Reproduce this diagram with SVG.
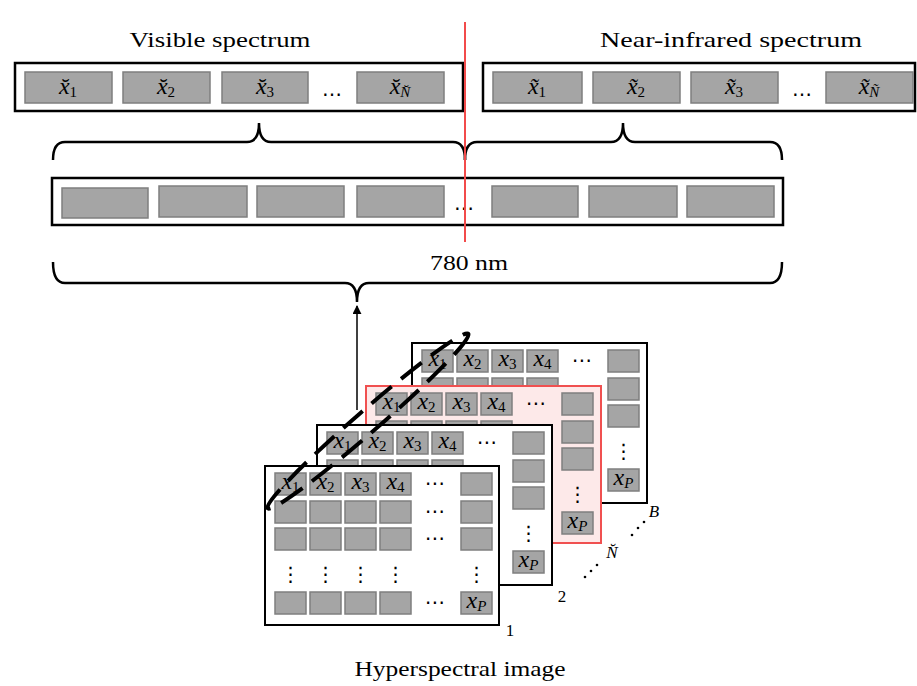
<svg xmlns="http://www.w3.org/2000/svg" xmlns:xlink="http://www.w3.org/1999/xlink" width="917" height="686" viewBox="0 0 917 686">
<style>
.lbl{font-family:"Liberation Serif",serif;font-size:22px;fill:#000}
.cell{fill:#a5a5a5;stroke:#7f7f7f;stroke-width:1.5}
.bar{fill:#fff;stroke:#000;stroke-width:2.5}
.m{font-family:"Liberation Serif",serif;font-size:24px;font-style:italic;text-anchor:middle;fill:#000}
.sub{font-size:15px;font-style:normal}
.isub{font-size:15px;font-style:italic}
.dots{font-family:"DejaVu Sans",sans-serif;font-size:20px;text-anchor:middle;fill:#000}
.vd{font-family:"DejaVu Sans",sans-serif;font-size:20px;text-anchor:middle;fill:#000}
.brace{fill:none;stroke:#000;stroke-width:2.5}
.panel{fill:#fff;stroke:#000;stroke-width:2}
.pink{fill:#fde9e9;stroke:#f05050;stroke-width:2}
</style>
<defs>
<marker id="ah" viewBox="0 0 10 10" refX="9" refY="5" markerWidth="9" markerHeight="9" markerUnits="userSpaceOnUse" orient="auto">
<path d="M0,0 L10,5 L0,10 z" fill="#000"/>
</marker>
<g id="grid">
<rect class="cell" x="10" y="7" width="31" height="22"/>
<rect class="cell" x="45" y="7" width="31" height="22"/>
<rect class="cell" x="80" y="7" width="31" height="22"/>
<rect class="cell" x="115" y="7" width="31" height="22"/>
<rect class="cell" x="196" y="7" width="31" height="22"/>
<rect class="cell" x="10" y="35" width="31" height="22"/>
<rect class="cell" x="45" y="35" width="31" height="22"/>
<rect class="cell" x="80" y="35" width="31" height="22"/>
<rect class="cell" x="115" y="35" width="31" height="22"/>
<rect class="cell" x="196" y="35" width="31" height="22"/>
<rect class="cell" x="10" y="62" width="31" height="22"/>
<rect class="cell" x="45" y="62" width="31" height="22"/>
<rect class="cell" x="80" y="62" width="31" height="22"/>
<rect class="cell" x="115" y="62" width="31" height="22"/>
<rect class="cell" x="196" y="62" width="31" height="22"/>
<rect class="cell" x="10" y="126" width="31" height="22"/>
<rect class="cell" x="45" y="126" width="31" height="22"/>
<rect class="cell" x="80" y="126" width="31" height="22"/>
<rect class="cell" x="115" y="126" width="31" height="22"/>
<rect class="cell" x="196" y="126" width="31" height="22"/>
<text class="m" x="25.5" y="23">x<tspan class="sub" dy="3">1</tspan></text>
<text class="m" x="60.5" y="23">x<tspan class="sub" dy="3">2</tspan></text>
<text class="m" x="95.5" y="23">x<tspan class="sub" dy="3">3</tspan></text>
<text class="m" x="130.5" y="23">x<tspan class="sub" dy="3">4</tspan></text>
<text class="m" x="211.5" y="142">x<tspan class="isub" dy="3">P</tspan></text>
<text class="dots" x="170" y="24">⋯</text>
<text class="dots" x="170" y="52">⋯</text>
<text class="dots" x="170" y="79">⋯</text>
<text class="dots" x="170" y="143">⋯</text>
<text class="vd" x="25.5" y="115">⋮</text>
<text class="vd" x="60.5" y="115">⋮</text>
<text class="vd" x="95.5" y="115">⋮</text>
<text class="vd" x="130.5" y="115">⋮</text>
<text class="vd" x="211.5" y="115">⋮</text>
</g>
</defs>
<rect width="917" height="686" fill="#fff"/>

<text class="lbl" x="220" y="47" text-anchor="middle" textLength="181" lengthAdjust="spacingAndGlyphs">Visible spectrum</text>
<text class="lbl" x="731" y="47" text-anchor="middle" textLength="262" lengthAdjust="spacingAndGlyphs">Near-infrared spectrum</text>

<g id="visible-bar">
<rect class="bar" x="15" y="63" width="448" height="48"/>
<rect class="cell" x="25" y="72" width="87" height="31"/>
<rect class="cell" x="123" y="72" width="87" height="31"/>
<rect class="cell" x="222" y="72" width="86" height="31"/>
<rect class="cell" x="357" y="72" width="87" height="31"/>
<text class="m" x="68" y="94">x̆<tspan class="sub" dy="3">1</tspan></text>
<text class="m" x="166" y="94">x̆<tspan class="sub" dy="3">2</tspan></text>
<text class="m" x="265" y="94">x̆<tspan class="sub" dy="3">3</tspan></text>
<text class="m" x="400" y="94">x̆<tspan class="isub" dy="3">N̆</tspan></text>
<text class="dots" x="332" y="96" font-size="12">…</text>
</g>

<g id="nir-bar">
<rect class="bar" x="483" y="63" width="432" height="48"/>
<rect class="cell" x="493" y="72" width="89" height="31"/>
<rect class="cell" x="593" y="72" width="87" height="31"/>
<rect class="cell" x="691" y="72" width="87" height="31"/>
<rect class="cell" x="826" y="72" width="87" height="31"/>
<text class="m" x="537" y="94">x̃<tspan class="sub" dy="3">1</tspan></text>
<text class="m" x="636" y="94">x̃<tspan class="sub" dy="3">2</tspan></text>
<text class="m" x="734" y="94">x̃<tspan class="sub" dy="3">3</tspan></text>
<text class="m" x="869" y="94">x̃<tspan class="isub" dy="3">Ñ</tspan></text>
<text class="dots" x="802" y="96" font-size="12">…</text>
</g>

<g id="full-bar">
<rect class="bar" x="52" y="178" width="731" height="47" stroke-width="2"/>
<rect class="cell" x="62" y="188" width="86" height="30"/>
<rect class="cell" x="159" y="186" width="88" height="31"/>
<rect class="cell" x="257" y="186" width="87" height="31"/>
<rect class="cell" x="357" y="186" width="87" height="31"/>
<rect class="cell" x="492" y="186" width="86" height="31"/>
<rect class="cell" x="589" y="186" width="88" height="31"/>
<rect class="cell" x="687" y="186" width="87" height="31"/>
<text class="dots" x="464" y="210" font-size="10">…</text>
</g>

<text class="lbl" x="469" y="270" text-anchor="middle" textLength="78" lengthAdjust="spacingAndGlyphs">780 nm</text>

<g id="connectors">
<path class="brace" d="M53,160 Q53,142 65,142 L247,142 Q259,142 259,123 Q259,142 271,142 L453,142 Q465,142 465,160"/>
<path class="brace" d="M465,160 Q465,142 477,142 L611,142 Q623,142 623,123 Q623,142 635,142 L770,142 Q782,142 782,160"/>
<path class="brace" d="M53,262 Q53,283 65,283 L345,283 Q357,283 357,302 Q357,283 369,283 L770,283 Q782,283 782,262"/>
<line x1="465" y1="22" x2="465" y2="242" stroke="#f24b4b" stroke-width="2"/>
<line x1="357" y1="410" x2="357" y2="306" stroke="#000" stroke-width="1.5" marker-end="url(#ah)"/>
</g>

<g id="band-B" transform="translate(412,343)">
<rect class="panel" x="0" y="0" width="235" height="160"/>
<use xlink:href="#grid"/>
</g>
<g id="band-N" transform="translate(366,386)">
<rect class="pink" x="0" y="0" width="235" height="157"/>
<use xlink:href="#grid"/>
</g>
<g id="band-2" transform="translate(317,425)">
<rect class="panel" x="0" y="0" width="235" height="160"/>
<use xlink:href="#grid"/>
</g>
<g id="band-1" transform="translate(265,466)">
<rect class="panel" x="0" y="0" width="234" height="159"/>
<use xlink:href="#grid"/>
</g>

<g id="pixel-selection">
<ellipse cx="368" cy="421" rx="133" ry="11" transform="rotate(-41 368 421)" fill="none" stroke="#000" stroke-width="4" stroke-dasharray="26 12"/>
</g>

<g id="band-labels" font-family="Liberation Serif, serif" font-size="17">
<text x="510" y="636" text-anchor="middle">1</text>
<text x="562" y="602" text-anchor="middle">2</text>
<text x="612" y="558" text-anchor="middle" font-style="italic">N̆</text>
<text x="654" y="517" text-anchor="middle" font-style="italic">B</text>
<circle cx="585" cy="577" r="1.3"/><circle cx="591" cy="571" r="1.3"/><circle cx="597" cy="565" r="1.3"/>
<circle cx="632" cy="535" r="1.3"/><circle cx="638" cy="528" r="1.3"/><circle cx="644" cy="522" r="1.3"/>
</g>

<text class="lbl" x="460" y="676" text-anchor="middle" textLength="211" lengthAdjust="spacingAndGlyphs">Hyperspectral image</text>
</svg>
